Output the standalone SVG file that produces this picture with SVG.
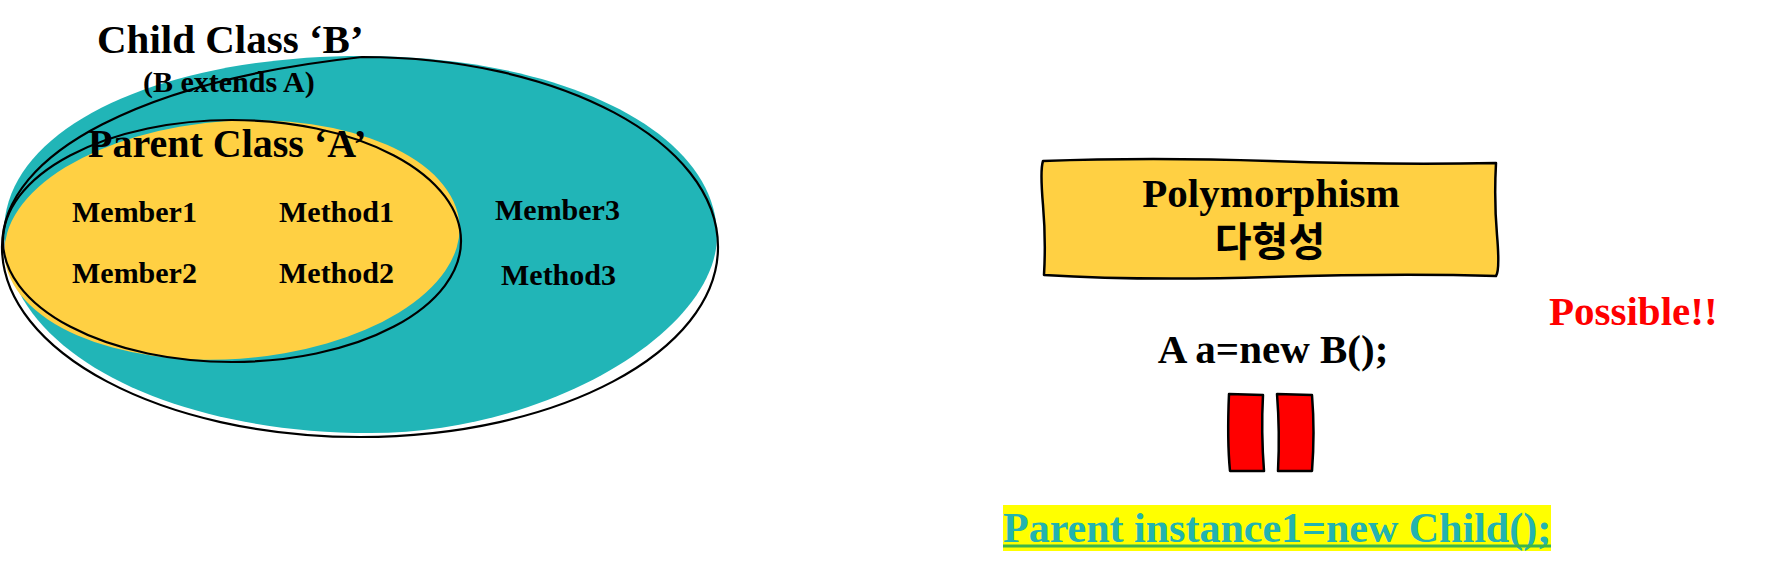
<svg xmlns="http://www.w3.org/2000/svg" width="1784" height="577" viewBox="0 0 1784 577">
  <style>
    .t { font-family: "Liberation Serif", "Times New Roman", serif; font-weight: bold; fill: #000; }
    .ko { font-family: "Noto Sans CJK KR", "Noto Sans", sans-serif; font-weight: bold; fill: #000; }
    .outline { fill: none; stroke: #000; stroke-width: 2.2; }
    .sketch { stroke: #000; stroke-width: 2.5; stroke-linejoin: round; }
  </style>
  <rect width="1784" height="577" fill="#fff"/>

  <g id="child-class-B">
    <path d="M4,232 C4,128 160,56 362,56 C560,56 717,130 717,236 C717,330 550,433 370,433 C170,433 4,352 4,232 Z" fill="#21B5B7"/>
    <path class="outline" d="M2,247 C2,150 150,80 362,57 C560,57 718,142 718,247 C718,352 558,437 360,437 C162,437 2,352 2,247 Z"/>
    <text class="t" x="97" y="53" font-size="41">Child Class ‘B’</text>
    <text class="t" x="143" y="92" font-size="30">(B extends A)</text>
    <text class="t" x="495" y="220" font-size="30">Member3</text>
    <text class="t" x="501" y="285" font-size="30">Method3</text>
  </g>

  <g id="parent-class-A">
    <ellipse cx="232" cy="240" rx="228" ry="119" fill="#FFD043" transform="rotate(-4 232 240)"/>
    <ellipse class="outline" cx="232" cy="241" rx="229" ry="121"/>
    <text class="t" x="88" y="157" font-size="40">Parent Class ‘A’</text>
    <text class="t" x="72" y="222" font-size="30">Member1</text>
    <text class="t" x="72" y="283" font-size="30">Member2</text>
    <text class="t" x="279" y="222" font-size="30">Method1</text>
    <text class="t" x="279" y="283" font-size="30">Method2</text>
  </g>

  <g id="polymorphism-box">
    <path class="sketch" fill="#FFD043" d="M1043,161 Q1150,157 1270,161 T1496,163 Q1494,200 1497,235 T1496,276 Q1400,273 1270,277 T1044,275 Q1046,240 1043,205 T1043,161 Z"/>
    <text class="t" x="1271" y="207" font-size="41" text-anchor="middle">Polymorphism</text>
    <text class="ko" x="1270" y="256" font-size="40" text-anchor="middle">다형성</text>
  </g>

  <g id="code-A-a">
    <text class="t" x="1273" y="363" font-size="41" text-anchor="middle">A a=new B();</text>
  </g>

  <g id="possible">
    <text class="t" x="1549" y="325" font-size="41" style="fill:#FF0000">Possible!!</text>
  </g>

  <g id="equals-sign">
    <path class="sketch" fill="#FF0000" stroke-width="2" d="M1229,394 L1263,395 Q1261,432 1264,471 L1230,471 Q1227,440 1229,394 Z"/>
    <path class="sketch" fill="#FF0000" stroke-width="2" d="M1277,394 L1312,395 Q1315,432 1312,471 L1278,471 Q1280,432 1277,394 Z"/>
  </g>

  <g id="code-parent-instance">
    <rect x="1003" y="505" width="548" height="46" fill="#FFFF00"/>
    <text class="t" x="1003" y="542" font-size="42" style="fill:#22B3B0">Parent instance1=new Child();</text>
    <line x1="1003" y1="546" x2="1551" y2="546" stroke="#3CB54A" stroke-width="3"/>
  </g>
</svg>
